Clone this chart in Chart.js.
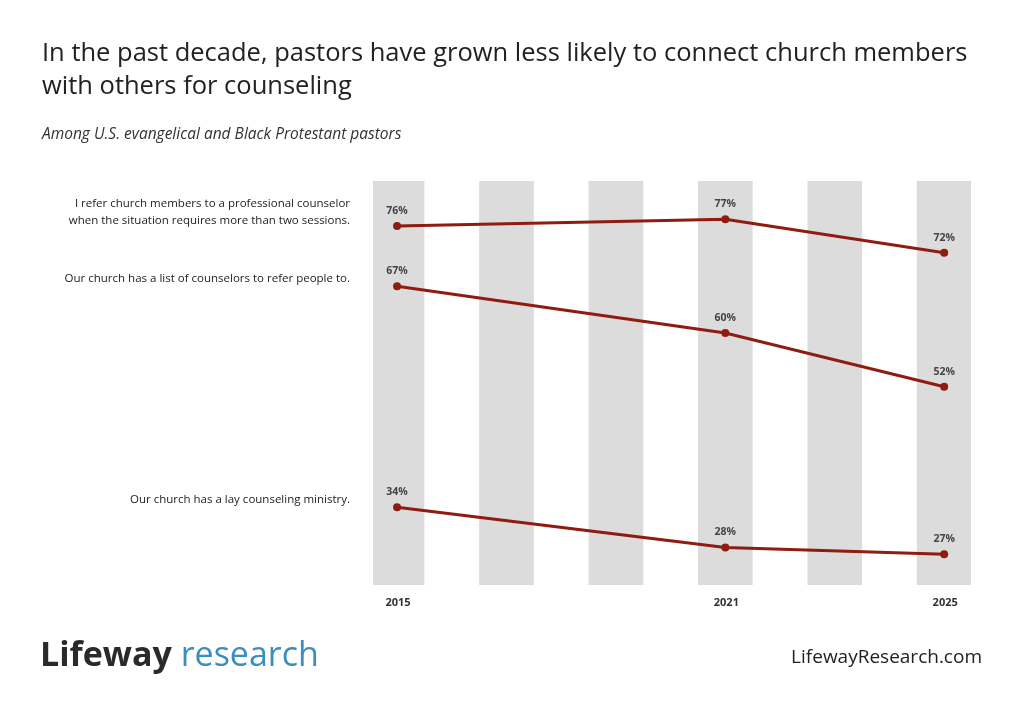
<!DOCTYPE html>
<html><head><meta charset="utf-8">
<script src="https://cdn.jsdelivr.net/npm/chart.js@4/dist/chart.umd.min.js"></script>
<style>
body{margin:0;background:#fff;font-family:"Open Sans",sans-serif;}
#wrap{position:relative;width:1024px;height:715px;}
canvas{position:absolute;left:0;top:0;}
.t{position:absolute;color:#222;}
</style></head><body>
<div id="wrap">
<canvas id="c" width="1024" height="715"></canvas>
<div class="t" style="left:42px;top:35px;font-size:25.5px;line-height:33px;">In the past decade, pastors have grown less likely to connect church members<br>with others for counseling</div>
<div class="t" style="left:42px;top:122px;font-size:15.5px;font-style:italic;color:#333;">Among U.S. evangelical and Black Protestant pastors</div>
<div class="t" style="left:40px;top:630px;font-size:34px;font-weight:bold;"><span style="color:#2a2a2a">Lifeway</span> <span style="color:#3a8fc0;font-weight:normal">research</span></div>
<div class="t" style="right:42px;top:643px;font-size:19px;color:#222;">LifewayResearch.com</div>
</div>
<script>
const years=[2015,2021,2025];
const bandYears=[2015,2017,2019,2021,2023,2025];
const tickYears=[2015,2021,2025];
const seriesNames=["I refer church members to a professional counselor\nwhen the situation requires more than two sessions.","Our church has a list of counselors to refer people to.","Our church has a lay counseling ministry."];
const refer=[76,77,72];
const list=[67,60,52];
const lay=[34,28,27];
const YMIN=22.4,YMAX=82.7;
const red='#8e1c10';
const lineDs=(d)=>({type:'line',data:years.map((y,i)=>({x:y,y:d[i]})),borderColor:red,backgroundColor:red,borderWidth:3,pointRadius:4,pointBackgroundColor:red,pointBorderWidth:0});
const labels={id:'labels',afterDatasetsDraw(ch){
 const c=ch.ctx,xs=ch.scales.x,ys=ch.scales.y;
 c.save();c.fillStyle='#444';c.font='bold 10.5px "Open Sans"';c.textAlign='center';
 [refer,list,lay].forEach(d=>d.forEach((v,i)=>c.fillText(v+'%',xs.getPixelForValue(years[i]),ys.getPixelForValue(v)-12)));
 c.font='bold 11px "Open Sans"';c.fillStyle='#333';
 tickYears.forEach(y=>c.fillText(y,xs.getPixelForValue(y)+1,606));
 c.font='11.5px "Open Sans"';c.textAlign='right';c.fillStyle='#222';
 const d0=[refer[0],list[0],lay[0]];
 seriesNames.forEach((n,k)=>{const ls=n.split('\n');const yc=ys.getPixelForValue(d0[k]);
  ls.forEach((l,j)=>c.fillText(l,350,yc-4+(j-(ls.length-1)/2)*17+(ls.length>1?-6:0)));});
 c.restore();}};
new Chart(document.getElementById('c'),{
 data:{datasets:[
  {type:'bar',data:bandYears.map(y=>({x:y,y:[YMIN,YMAX]})),backgroundColor:'#dcdcdc',barThickness:54,grouped:false,order:10},
  lineDs(refer),lineDs(list),lineDs(lay)]},
 options:{responsive:false,animation:false,
  layout:{padding:{left:373,right:53,top:181,bottom:130}},
  plugins:{legend:{display:false},tooltip:{enabled:false}},
  scales:{x:{type:'linear',offset:false,min:2014.56,max:2025.49,display:false},y:{min:YMIN,max:YMAX,display:false}}},
 plugins:[labels]});
</script></body></html>
